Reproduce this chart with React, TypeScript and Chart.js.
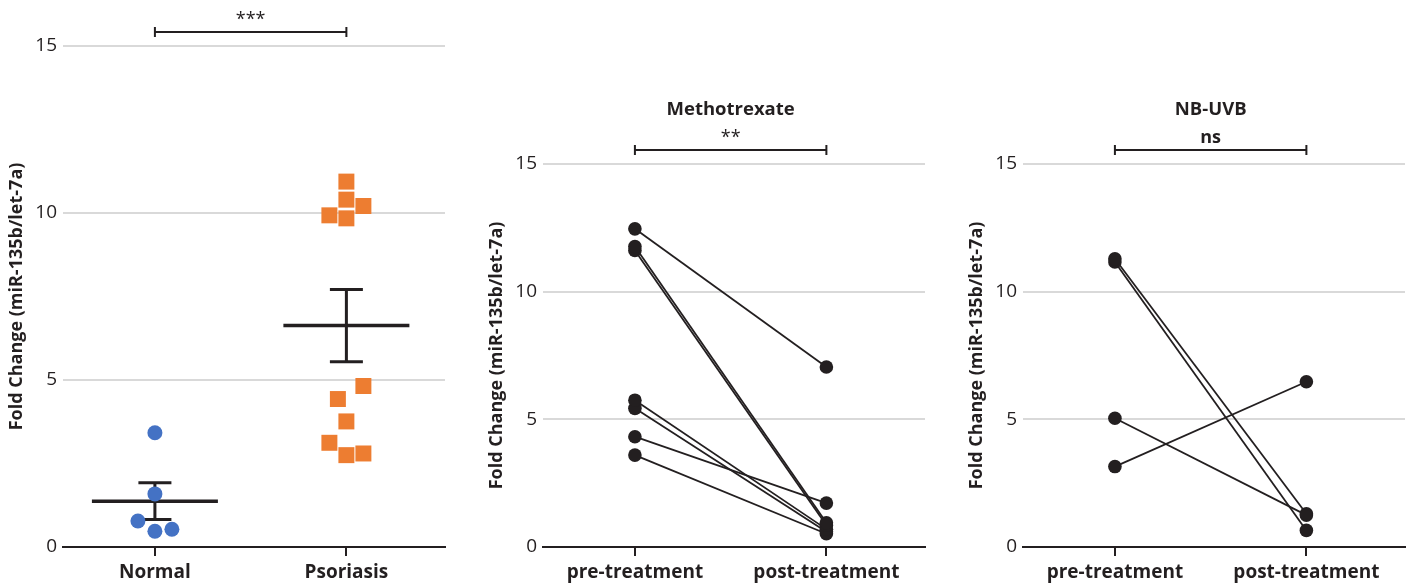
import React, { useEffect, useRef } from "react";
import { Chart, registerables } from "chart.js";

Chart.register(...registerables);

const FONT = '"Open Sans", "DejaVu Sans", sans-serif';
const INK = "#231f20";
const BLUE = "#4472c4";
const ORANGE = "#ed7d31";
const GRID = "#d9d9d9";
const Y_TITLE = "Fold Change (miR-135b/let-7a)";

// ---- Panel 1: Normal vs Psoriasis ----
const groupLabels = ["Normal", "Psoriasis"];
const normalValues = [3.42, 1.59, 0.78, 0.47, 0.53];
const normalLanes = [0, 0, -1, 0, 1];
const psoriasisValues = [10.94, 10.4, 10.21, 9.93, 9.84, 4.82, 4.43, 3.76, 3.12, 2.75, 2.8];
const psoriasisLanes = [0, 0, 1, -1, 0, 1, -0.5, 0, -1, 0, 1];
const groupMeans = [1.37, 6.63];
const groupSems = [0.55, 1.08];
const groupSig = "***";

// ---- Panel 2: Methotrexate ----
const treatmentLabels = ["pre-treatment", "post-treatment"];
const mtxTitle = "Methotrexate";
const mtxPre = [12.46, 11.77, 11.61, 5.75, 5.43, 4.32, 3.6];
const mtxPost = [7.05, 0.95, 0.85, 0.7, 0.6, 1.72, 0.52];
const mtxSig = "**";

// ---- Panel 3: NB-UVB ----
const uvbTitle = "NB-UVB";
const uvbPre = [11.29, 11.16, 5.04, 3.15];
const uvbPost = [1.3, 0.65, 1.25, 6.47];
const uvbSig = "ns";

const yTicks = { min: 0, max: 15, step: 5 };

const LANE = 17 / 191.5;

const annotatePlugin = {
  id: "annotate",
  beforeDatasetsDraw(chart: any, _a: any, opts: any) {
    if (!opts.means) return;
    const { ctx, scales } = chart;
    const { x, y } = scales;
    ctx.save();
    ctx.strokeStyle = INK;
    opts.means.forEach((m: number, i: number) => {
      const cx = x.getPixelForValue(i);
      const ym = y.getPixelForValue(m);
      const yt = y.getPixelForValue(m + opts.sems[i]);
      const yb = y.getPixelForValue(m - opts.sems[i]);
      ctx.lineWidth = 3.5;
      ctx.beginPath();
      ctx.moveTo(cx - 63, ym);
      ctx.lineTo(cx + 63, ym);
      ctx.stroke();
      ctx.lineWidth = 3;
      ctx.beginPath();
      ctx.moveTo(cx, yt);
      ctx.lineTo(cx, yb);
      ctx.moveTo(cx - 16.5, yt);
      ctx.lineTo(cx + 16.5, yt);
      ctx.moveTo(cx - 16.5, yb);
      ctx.lineTo(cx + 16.5, yb);
      ctx.stroke();
    });
    ctx.restore();
  },
  afterDraw(chart: any, _a: any, opts: any) {
    const { ctx, chartArea, scales } = chart;
    const x0 = scales.x.getPixelForValue(0);
    const x1 = scales.x.getPixelForValue(1);
    const by = chartArea.top - 14;
    ctx.save();
    ctx.strokeStyle = INK;
    ctx.lineWidth = 2;
    ctx.beginPath();
    ctx.moveTo(x0, by);
    ctx.lineTo(x1, by);
    ctx.moveTo(x0, by - 5);
    ctx.lineTo(x0, by + 5);
    ctx.moveTo(x1, by - 5);
    ctx.lineTo(x1, by + 5);
    ctx.stroke();
    ctx.fillStyle = INK;
    ctx.textAlign = "center";
    ctx.textBaseline = "alphabetic";
    const isNs = opts.sig === "ns";
    ctx.font = `${isNs ? "bold" : "normal"} 18px ${FONT}`;
    ctx.fillText(opts.sig, (x0 + x1) / 2, by - 7);
    if (opts.title) {
      ctx.font = `bold 18.5px ${FONT}`;
      ctx.fillText(opts.title, (x0 + x1) / 2, by - 35);
    }
    ctx.restore();
  },
};

function makeOptions(labels: string[], top: number, right: number, annot: any) {
  return {
    responsive: false,
    animation: false,
    layout: { padding: { top, right, left: 0, bottom: 0 } },
    plugins: {
      legend: { display: false },
      tooltip: { enabled: false },
      annotate: annot,
    },
    scales: {
      x: {
        type: "linear",
        min: -0.48,
        max: 1.515,
        afterBuildTicks: (s: any) => {
          s.ticks = [{ value: 0 }, { value: 1 }];
        },
        afterFit: (s: any) => {
          s.height = 40;
        },
        ticks: {
          callback: (v: any) => labels[Math.round(Number(v))],
          font: { family: FONT, size: 19, weight: "bold" },
          color: INK,
          padding: 5,
          maxRotation: 0,
          autoSkip: false,
        },
        grid: {
          drawOnChartArea: false,
          drawTicks: true,
          tickLength: 9,
          color: INK,
          lineWidth: 2,
        },
        border: { display: true, color: INK, width: 2 },
      },
      y: {
        min: yTicks.min,
        max: yTicks.max,
        afterFit: (s: any) => {
          s.width = 63;
        },
        ticks: {
          stepSize: yTicks.step,
          font: { family: FONT, size: 19 },
          color: INK,
          padding: 6,
        },
        grid: {
          color: (c: any) => (c.tick && c.tick.value === 0 ? "rgba(0,0,0,0)" : GRID),
          lineWidth: 2,
          drawTicks: false,
        },
        border: { display: false },
        title: {
          display: true,
          text: Y_TITLE,
          font: { family: FONT, size: 18, weight: "bold" },
          color: INK,
          padding: { top: 6, bottom: 0 },
        },
      },
    },
  };
}

function pairedDatasets(pre: number[], post: number[]) {
  return pre.map((p, i) => ({
    data: [
      { x: 0, y: p },
      { x: 1, y: post[i] },
    ],
    borderColor: INK,
    borderWidth: 1.8,
    pointRadius: 6.8,
    pointBackgroundColor: INK,
    pointBorderWidth: 0,
    fill: false,
  }));
}

function Panel({ left, width, build }: { left: number; width: number; build: () => any }) {
  const ref = useRef<HTMLCanvasElement>(null);
  useEffect(() => {
    if (!ref.current) return;
    const chart = new Chart(ref.current, { ...build(), plugins: [annotatePlugin] });
    return () => chart.destroy();
  }, []);
  return (
    <canvas
      ref={ref}
      width={width}
      height={587}
      style={{ position: "absolute", left, top: 0, width, height: 587, display: "block" }}
    />
  );
}

export default function App() {
  return (
    <div style={{ position: "absolute", left: 0, top: 0, width: 1413, height: 587, background: "#fff" }}>
      <Panel
        left={0}
        width={480}
        build={() => ({
          type: "scatter",
          data: {
            datasets: [
              {
                label: groupLabels[0],
                data: normalValues.map((v, i) => ({ x: 0 + normalLanes[i] * LANE, y: v })),
                pointStyle: "circle",
                pointRadius: 7.5,
                backgroundColor: BLUE,
                borderWidth: 0,
              },
              {
                label: groupLabels[1],
                data: psoriasisValues.map((v, i) => ({ x: 1 + psoriasisLanes[i] * LANE, y: v })),
                pointStyle: "rect",
                pointRadius: 11.3,
                backgroundColor: ORANGE,
                borderWidth: 0,
              },
            ],
          },
          options: makeOptions(groupLabels, 46, 35, { sig: groupSig, means: groupMeans, sems: groupSems }),
        })}
      />
      <Panel
        left={480}
        width={480}
        build={() => ({
          type: "line",
          data: { datasets: pairedDatasets(mtxPre, mtxPost) },
          options: makeOptions(treatmentLabels, 164, 35, { sig: mtxSig, title: mtxTitle }),
        })}
      />
      <Panel
        left={960}
        width={453}
        build={() => ({
          type: "line",
          data: { datasets: pairedDatasets(uvbPre, uvbPost) },
          options: makeOptions(treatmentLabels, 164, 8, { sig: uvbSig, title: uvbTitle }),
        })}
      />
    </div>
  );
}
